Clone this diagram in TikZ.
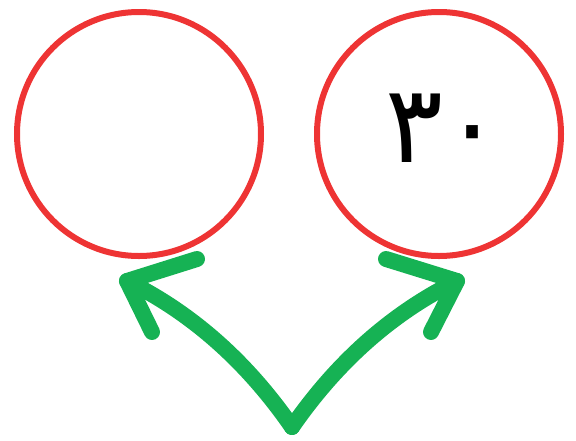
\documentclass[tikz,border=0pt]{standalone}
\usepackage{fontspec}
\usepackage{tikz}
\usetikzlibrary{positioning}
\newfontfamily\arabicfont[Script=Arabic]{DejaVu Sans}
\definecolor{ringred}{RGB}{238,52,52}
\definecolor{arrowgreen}{RGB}{22,178,84}
\tikzstyle{ring} = [circle, draw=ringred, line width=6pt, inner sep=0pt, minimum size=244pt]
\tikzstyle{curvearrow} = [arrowgreen, line width=16pt, line cap=round, line join=round]

\begin{document}
\begin{tikzpicture}[x=1pt, y=-1pt]
            \useasboundingbox (0,0) rectangle (576,440);
            \node [ring] (left) at (139,134) {};
            \node [ring] (right) at (439,134) {};
            \node [font=\arabicfont\fontsize{108}{108}\selectfont, inner sep=0pt] (num) at (444,128) {۳۰};
            % the forked arrow
            \coordinate (base) at (292,427);
            \coordinate (ltip) at (127,281);
            \coordinate (rtip) at (457,281);
            \coordinate (larmA) at (197,259);
            \coordinate (larmB) at (152,332);
            \coordinate (rarmA) at (386,259);
            \coordinate (rarmB) at (431,332);
            \draw [curvearrow] (base) .. controls (247,362) and (192,313) .. (ltip);
            \draw [curvearrow] (base) .. controls (337,362) and (392,313) .. (rtip);
            \draw [curvearrow] (larmA) -- (ltip) -- (larmB);
            \draw [curvearrow] (rarmA) -- (rtip) -- (rarmB);
\end{tikzpicture}
\end{document}
